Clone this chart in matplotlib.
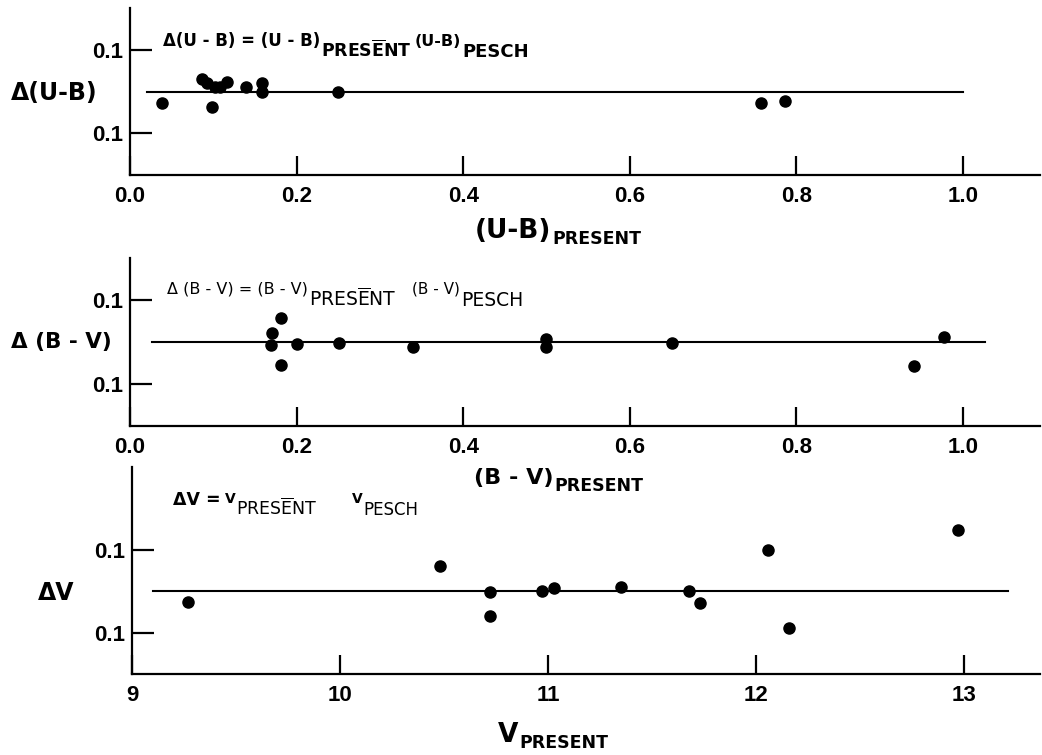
import matplotlib
matplotlib.use('Agg')
import matplotlib.pyplot as plt

plt.rcParams['font.family'] = ['Liberation Sans', 'DejaVu Sans']
plt.rcParams['mathtext.fontset'] = 'dejavusans'

# Panel 1: delta(U-B) against (U-B) present
ub_x = [0.038, 0.086, 0.093, 0.102, 0.108, 0.116, 0.098, 0.139, 0.158, 0.158, 0.250, 0.757, 0.786]
ub_y = [-0.028, 0.030, 0.021, 0.010, 0.010, 0.022, -0.037, 0.011, 0.020, 0.000, 0.000, -0.028, -0.023]
ub_fit_x = [0.02, 1.0]
ub_fit_y = [0.0, 0.0]

# Panel 2: delta(B-V) against (B-V) present
bv_x = [0.170, 0.169, 0.181, 0.181, 0.201, 0.251, 0.340, 0.499, 0.499, 0.651, 0.941, 0.977]
bv_y = [0.021, -0.007, 0.057, -0.055, -0.005, -0.002, -0.012, 0.007, -0.012, -0.002, -0.057, 0.012]
bv_fit_x = [0.026, 1.026]
bv_fit_y = [0.0, 0.0]

# Panel 3: delta V against V present
v_x = [9.27, 10.48, 10.72, 10.72, 10.97, 11.03, 11.35, 11.68, 11.73, 12.06, 12.16, 12.97]
v_y = [-0.027, 0.060, -0.002, -0.060, 0.000, 0.007, 0.010, 0.000, -0.029, 0.100, -0.089, 0.149]
v_fit_x = [9.1, 13.21]
v_fit_y = [0.0, 0.0]

color_ticks = [0.0, 0.2, 0.4, 0.6, 0.8, 1.0]
color_ticklabels = ['0.0', '0.2', '0.4', '0.6', '0.8', '1.0']
v_ticks = [9, 10, 11, 12, 13]
v_ticklabels = ['9', '10', '11', '12', '13']
delta_ticks = [-0.1, 0.1]
delta_ticklabels = ['0.1', '0.1']

W, H = 1042, 755
fig = plt.figure(figsize=(W / 100, H / 100), dpi=100)
renderer = fig.canvas.get_renderer()


def axes_px(left, top, right, bottom):
    return fig.add_axes([left / W, 1 - bottom / H, (right - left) / W, (bottom - top) / H])


def put(x, y, s, size, weight='bold'):
    # text at pixel position (from top-left), returns right edge in pixels
    t = fig.text(x / W, 1 - y / H, s, fontsize=size, fontweight=weight,
                 family='DejaVu Sans', ha='left', va='baseline')
    return x + t.get_window_extent(renderer).width


def present(x, y, size, weight):
    # subscript PRESENT, the stray minus sign of the scan sits over the E
    e = r'$\overline{\mathbf{E}}$' if weight == 'bold' else r'$\overline{\mathrm{E}}$'
    return put(x, y, 'PRES' + e + 'NT', size, weight)


def style(ax, xt, xtl):
    for s in ['top', 'right']:
        ax.spines[s].set_visible(False)
    for s in ['left', 'bottom']:
        ax.spines[s].set_linewidth(1.6)
    ax.set_xticks(xt)
    ax.set_xticklabels(xtl, fontweight='bold')
    ax.set_yticks(delta_ticks)
    ax.set_yticklabels(delta_ticklabels, fontweight='bold')
    ax.tick_params(axis='x', direction='in', length=14, width=1.6, labelsize=16, pad=8)
    ax.tick_params(axis='y', direction='in', length=16, width=1.6, labelsize=16, pad=5)


ax1 = axes_px(130, 8, 1040, 175)
ax1.plot(ub_fit_x, ub_fit_y, color='black', lw=1.5)
ax1.plot(ub_x, ub_y, 'o', color='black', ms=8)
ax1.set_xlim(0, 910 / 833)
ax1.set_ylim(-0.2, 0.2)
style(ax1, color_ticks, color_ticklabels)

ax2 = axes_px(130, 258, 1040, 426)
ax2.plot(bv_fit_x, bv_fit_y, color='black', lw=1.5)
ax2.plot(bv_x, bv_y, 'o', color='black', ms=8)
ax2.set_xlim(0, 910 / 833)
ax2.set_ylim(-0.2, 0.2)
style(ax2, color_ticks, color_ticklabels)

ax3 = axes_px(132, 467, 1040, 674)
ax3.plot(v_fit_x, v_fit_y, color='black', lw=1.5)
ax3.plot(v_x, v_y, 'o', color='black', ms=8)
ax3.set_xlim(9, 9 + 908 / 208)
ax3.set_ylim(-0.2, 0.3)
style(ax3, v_ticks, v_ticklabels)

# y labels
put(11, 100, '\u0394(U-B)', 17)
put(11, 348, '\u0394 (B - V)', 15.5)
put(38, 600, '\u0394V', 17)

# x labels
r = put(475, 238, '(U-B)', 19)
put(r + 1, 244, 'PRESENT', 12.5)
r = put(474, 484, '(B - V)', 16)
put(r + 1, 491, 'PRESENT', 12.5)
r = put(498, 742, 'V', 19)
put(r + 1, 748, 'PRESENT', 12.5)

# defining relations
r = put(163, 46, '\u0394(U - B) = (U - B)', 12)
present(r + 1, 57, 12.5, 'bold')
r = put(415, 46, '(U-B)', 11.5)
put(r + 1, 57, 'PESCH', 13)

r = put(167, 294, '\u0394 (B - V) = (B - V)', 11.5, 'normal')
present(r + 1, 306, 13.5, 'normal')
r = put(412, 293, '(B - V)', 11, 'normal')
put(r + 1, 306, 'PESCH', 13.5, 'normal')

r = put(173, 505, '\u0394V =', 12.5)
r = put(r + 4, 503, 'V', 10)
present(r + 1, 515, 12.5, 'normal')
r = put(352, 503, 'V', 10)
put(r + 1, 515, 'PESCH', 12, 'normal')

fig.savefig('out.png', dpi=100)
